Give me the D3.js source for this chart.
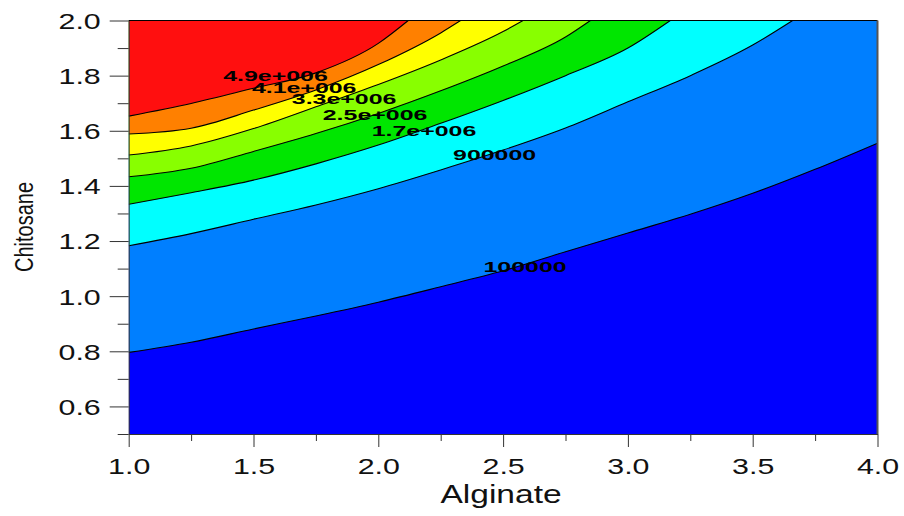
<!DOCTYPE html>
<html><head><meta charset="utf-8">
<script src="https://cdn.jsdelivr.net/npm/d3@7"></script>
<style>body{margin:0;background:#fff} svg{display:block}</style>
</head><body>
<svg id="c" width="904" height="516"></svg>
<script>
// ---- data ----
const alginateMajor = [1.0, 1.5, 2.0, 2.5, 3.0, 3.5, 4.0];
const alginateMinor = [1.25, 1.75, 2.25, 2.75, 3.25, 3.75];
const chitosaneMajor = [0.6, 0.8, 1.0, 1.2, 1.4, 1.6, 1.8, 2.0];
const chitosaneMinor = [0.5, 0.7, 0.9, 1.1, 1.3, 1.5, 1.7, 1.9];
const levels = [100000, 900000, 1700000, 2500000, 3300000, 4100000, 4900000];
const levelLabels = ["100000", "900000", "1.7e+006", "2.5e+006", "3.3e+006", "4.1e+006", "4.9e+006"];
// contour lines as [alginate, chitosane]
const c100000 = [[1.0,0.796],[1.25,0.833],[1.5,0.881],[1.75,0.928],[2.0,0.978],[2.25,1.034],[2.5,1.092],[2.75,1.161],[3.0,1.229],[3.25,1.297],[3.5,1.373],[3.75,1.46],[4.0,1.555]];
const c900000 = [[1.0,1.183],[1.25,1.227],[1.5,1.279],[1.75,1.331],[2.0,1.39],[2.25,1.458],[2.5,1.53],[2.75,1.61],[3.0,1.705],[3.25,1.80],[3.5,1.911],[3.66,2.0]];
const c1700000 = [[1.0,1.333],[1.25,1.375],[1.5,1.421],[1.75,1.48],[2.0,1.548],[2.25,1.627],[2.5,1.71],[2.75,1.80],[3.0,1.90],[3.17,2.0]];
const c2500000 = [[1.0,1.433],[1.25,1.464],[1.5,1.525],[1.75,1.59],[2.0,1.663],[2.25,1.745],[2.5,1.835],[2.75,1.94],[2.85,2.0]];
const c3300000 = [[1.0,1.512],[1.25,1.545],[1.5,1.608],[1.75,1.687],[2.0,1.768],[2.25,1.857],[2.5,1.96],[2.58,2.0]];
const c4100000 = [[1.0,1.588],[1.25,1.609],[1.5,1.675],[1.75,1.748],[2.0,1.84],[2.25,1.955],[2.33,2.0]];
const c4900000 = [[1.0,1.653],[1.25,1.699],[1.5,1.754],[1.75,1.81],[2.0,1.917],[2.12,2.0]];
const contourLines = [c100000, c900000, c1700000, c2500000, c3300000, c4100000, c4900000];
// label anchor (alginate, chitosane) for each level
const labelAlginate = [2.588, 2.466, 2.183, 1.987, 1.863, 1.703, 1.588];
const labelChitosane = [1.088, 1.494, 1.581, 1.639, 1.697, 1.737, 1.779];

// ---- style ----
const bandColors = ["#0000ff", "#007fff", "#00ffff", "#00e600", "#88ff00", "#ffff00", "#ff8000", "#ff0f0f"];
const font = "'Liberation Sans', Arial, sans-serif";

const svg = d3.select("#c");
const x = d3.scaleLinear().domain([1, 4]).range([128.7, 877.5]);
const y = d3.scaleLinear().domain([0.5, 2.0]).range([434, 20.5]);

svg.append("defs").append("clipPath").attr("id", "plot")
  .append("rect").attr("x", x(1)).attr("y", y(2)).attr("width", x(4) - x(1)).attr("height", y(0.5) - y(2));

const g = svg.append("g").attr("clip-path", "url(#plot)");
g.append("rect").attr("x", x(1)).attr("y", y(2)).attr("width", x(4) - x(1)).attr("height", y(0.5) - y(2))
  .attr("fill", bandColors[0]);

const area = d3.area().x(d => x(d[0])).y0(y(2.2)).y1(d => y(d[1])).curve(d3.curveMonotoneX);
const line = d3.line().x(d => x(d[0])).y(d => y(d[1])).curve(d3.curveMonotoneX);

contourLines.forEach((pts, i) => {
  g.append("path").attr("d", area(pts)).attr("fill", bandColors[i + 1]);
});
contourLines.forEach(pts => {
  g.append("path").attr("d", line(pts)).attr("fill", "none").attr("stroke", "#000").attr("stroke-width", 1.1);
});

// contour labels
levelLabels.forEach((t, i) => {
  svg.append("text")
    .attr("transform", `translate(${x(labelAlginate[i])},${y(labelChitosane[i])}) scale(1.78,1)`)
    .attr("text-anchor", "middle")
    .attr("font-family", font).attr("font-weight", "bold").attr("font-size", 14)
    .attr("fill", "#000").text(t);
});

// frame
svg.append("line").attr("x1", x(1)).attr("x2", x(4)).attr("y1", y(2)).attr("y2", y(2)).attr("stroke", "#000").attr("stroke-width", 1.2);
svg.append("line").attr("x1", x(4)).attr("x2", x(4)).attr("y1", y(2)).attr("y2", y(0.5)).attr("stroke", "#555").attr("stroke-width", 2);

// axes
const axisColor = "#333";
const xMinor = svg.append("g").attr("transform", `translate(0,${y(0.5)})`)
  .call(d3.axisBottom(x).tickValues(alginateMinor).tickSize(7).tickFormat(""));
const xMajor = svg.append("g").attr("transform", `translate(0,${y(0.5)})`)
  .call(d3.axisBottom(x).tickValues(alginateMajor).tickSize(13).tickSizeOuter(0).tickFormat(d3.format(".1f")));
const yMinor = svg.append("g").attr("transform", `translate(${x(1)},0)`)
  .call(d3.axisLeft(y).tickValues(chitosaneMinor).tickSize(11).tickFormat(""));
const yMajor = svg.append("g").attr("transform", `translate(${x(1)},0)`)
  .call(d3.axisLeft(y).tickValues(chitosaneMajor).tickSize(19).tickSizeOuter(0).tickFormat(d3.format(".1f")));

[xMinor, yMinor].forEach(a => a.select(".domain").remove());
[xMinor, xMajor, yMinor, yMajor].forEach(a => {
  a.selectAll("line").attr("stroke", axisColor);
  a.selectAll(".domain").attr("stroke", axisColor);
});
xMajor.selectAll("text")
  .attr("font-family", font).attr("font-size", 22).attr("fill", "#111")
  .attr("y", 40).attr("dy", null).attr("transform", "scale(1.38,1)");
yMajor.selectAll("text")
  .attr("font-family", font).attr("font-size", 22).attr("fill", "#111")
  .attr("x", -28 / 1.38).attr("dy", "0.36em").attr("transform", "scale(1.38,1)");

// axis titles
svg.append("text").attr("transform", `translate(501,503) scale(1.29,1)`)
  .attr("text-anchor", "middle").attr("font-family", font).attr("font-size", 26).attr("fill", "#111")
  .text("Alginate");
svg.append("text").attr("transform", `translate(33,227) rotate(-90) scale(1,1.32)`)
  .attr("text-anchor", "middle").attr("font-family", font).attr("font-size", 20).attr("fill", "#111")
  .text("Chitosane");
</script>
</body></html>
